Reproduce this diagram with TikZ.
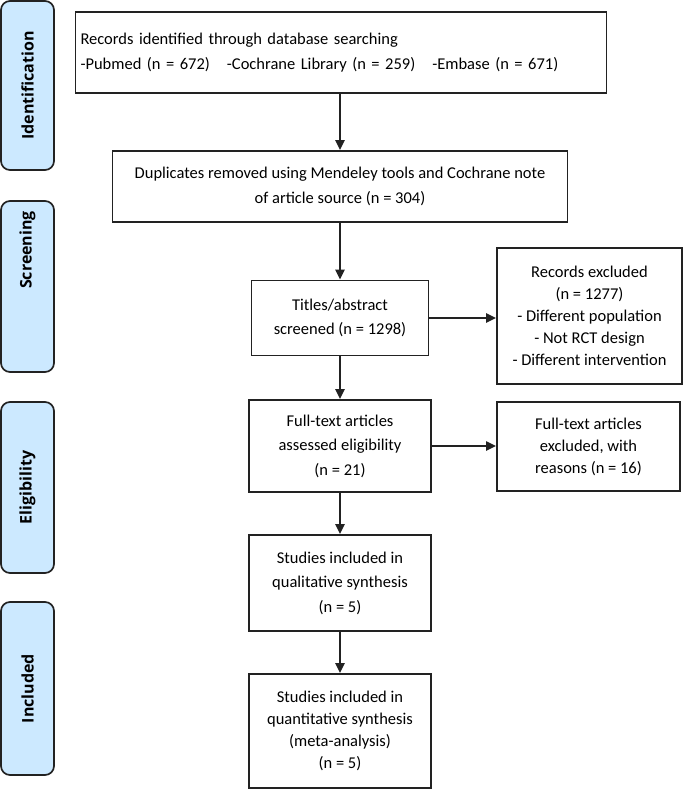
\documentclass[tikz,border=0pt]{standalone}
\usepackage{fontspec}
\setmainfont{Carlito}
\newfontfamily\sidefont{Open Sans}
\usetikzlibrary{arrows.meta}
\definecolor{sideblue}{HTML}{CCE9FF}
\definecolor{edge}{HTML}{222222}
\begin{document}
\begin{tikzpicture}[x=1pt,y=-1pt,
  box/.style={draw=edge, line width=1.7pt, align=center, inner sep=2pt,
    font=\fontsize{16.5}{24.5}\selectfont},
  tight/.style={font=\fontsize{16.5}{22}\selectfont},
  side/.style={draw=edge, line width=1.7pt, fill=sideblue, rounded corners=9pt,
    rotate=90, minimum height=53pt, inner sep=0pt},
  sidetext/.style={rotate=90, inner sep=0pt, font=\sidefont\bfseries\fontsize{16}{19}\selectfont},
  arr/.style={-{Triangle[length=10pt,width=9pt]}, line width=2pt, draw=edge}]
\useasboundingbox (0,0) rectangle (685,790);

% side labels
\node[side, minimum width=169pt] (sid) at (27.5,85.5) {};
\node[sidetext] (tid) at (sid) {Identification};
\node[side, minimum width=171pt] (ssc) at (27.5,286.5) {};
\node[sidetext] (tsc) at (27.5,250) {Screening};
\node[side, minimum width=171pt] (sel) at (27.5,487.5) {};
\node[sidetext] (tel) at (sel) {Eligibility};
\node[side, minimum width=173pt] (sin) at (27.5,688.5) {};
\node[sidetext] (tin) at (sin) {Included};

% main boxes
\node[box, minimum width=531pt, minimum height=81pt, align=left, text width=521pt] (b1) at (341,52.5)
  {Records identified through database searching\\
   -Pubmed (n = 672)\hspace{17pt}-Cochrane Library (n = 259)\hspace{17pt}-Embase (n = 671)};
\node[box, minimum width=455pt, minimum height=71pt] (b2) at (340,186.5)
  {Duplicates removed using Mendeley tools and Cochrane note\\of article source (n = 304)};
\node[box, minimum width=177pt, minimum height=75pt] (b3) at (340,318)
  {Titles/abstract\\screened (n = 1298)};
\node[box, tight, minimum width=185pt, minimum height=136pt] (b4) at (589.5,316)
  {Records excluded\\(n = 1277)\\- Different population\\- Not RCT design\\- Different intervention};
\node[box, minimum width=182pt, minimum height=92pt] (b5) at (340,446)
  {Full-text articles\\assessed eligibility\\(n = 21)};
\node[box, tight, minimum width=183pt, minimum height=89pt] (b6) at (588.5,446.5)
  {Full-text articles\\excluded, with\\reasons (n = 16)};
\node[box, minimum width=182pt, minimum height=96pt] (b7) at (340,583)
  {Studies included in\\qualitative synthesis\\(n = 5)};
\node[box, tight, minimum width=182pt, minimum height=114pt] (b8) at (340,731)
  {Studies included in\\quantitative synthesis\\(meta-analysis)\\(n = 5)};

% connectors
\draw[arr] (b1.south -| b3.north) -- (b2.north -| b3.north);
\draw[arr] (b2.south -| b3.north) -- (b3.north);
\draw[arr] (b3.south) -- (b3.south |- b5.north);
\draw[arr] (b3.east) -- (b3.east -| b4.west);
\draw[arr] (b5.south) -- (b5.south |- b7.north);
\draw[arr] (b5.east) -- (b5.east -| b6.west);
\draw[arr] (b7.south) -- (b7.south |- b8.north);
\end{tikzpicture}
\end{document}
